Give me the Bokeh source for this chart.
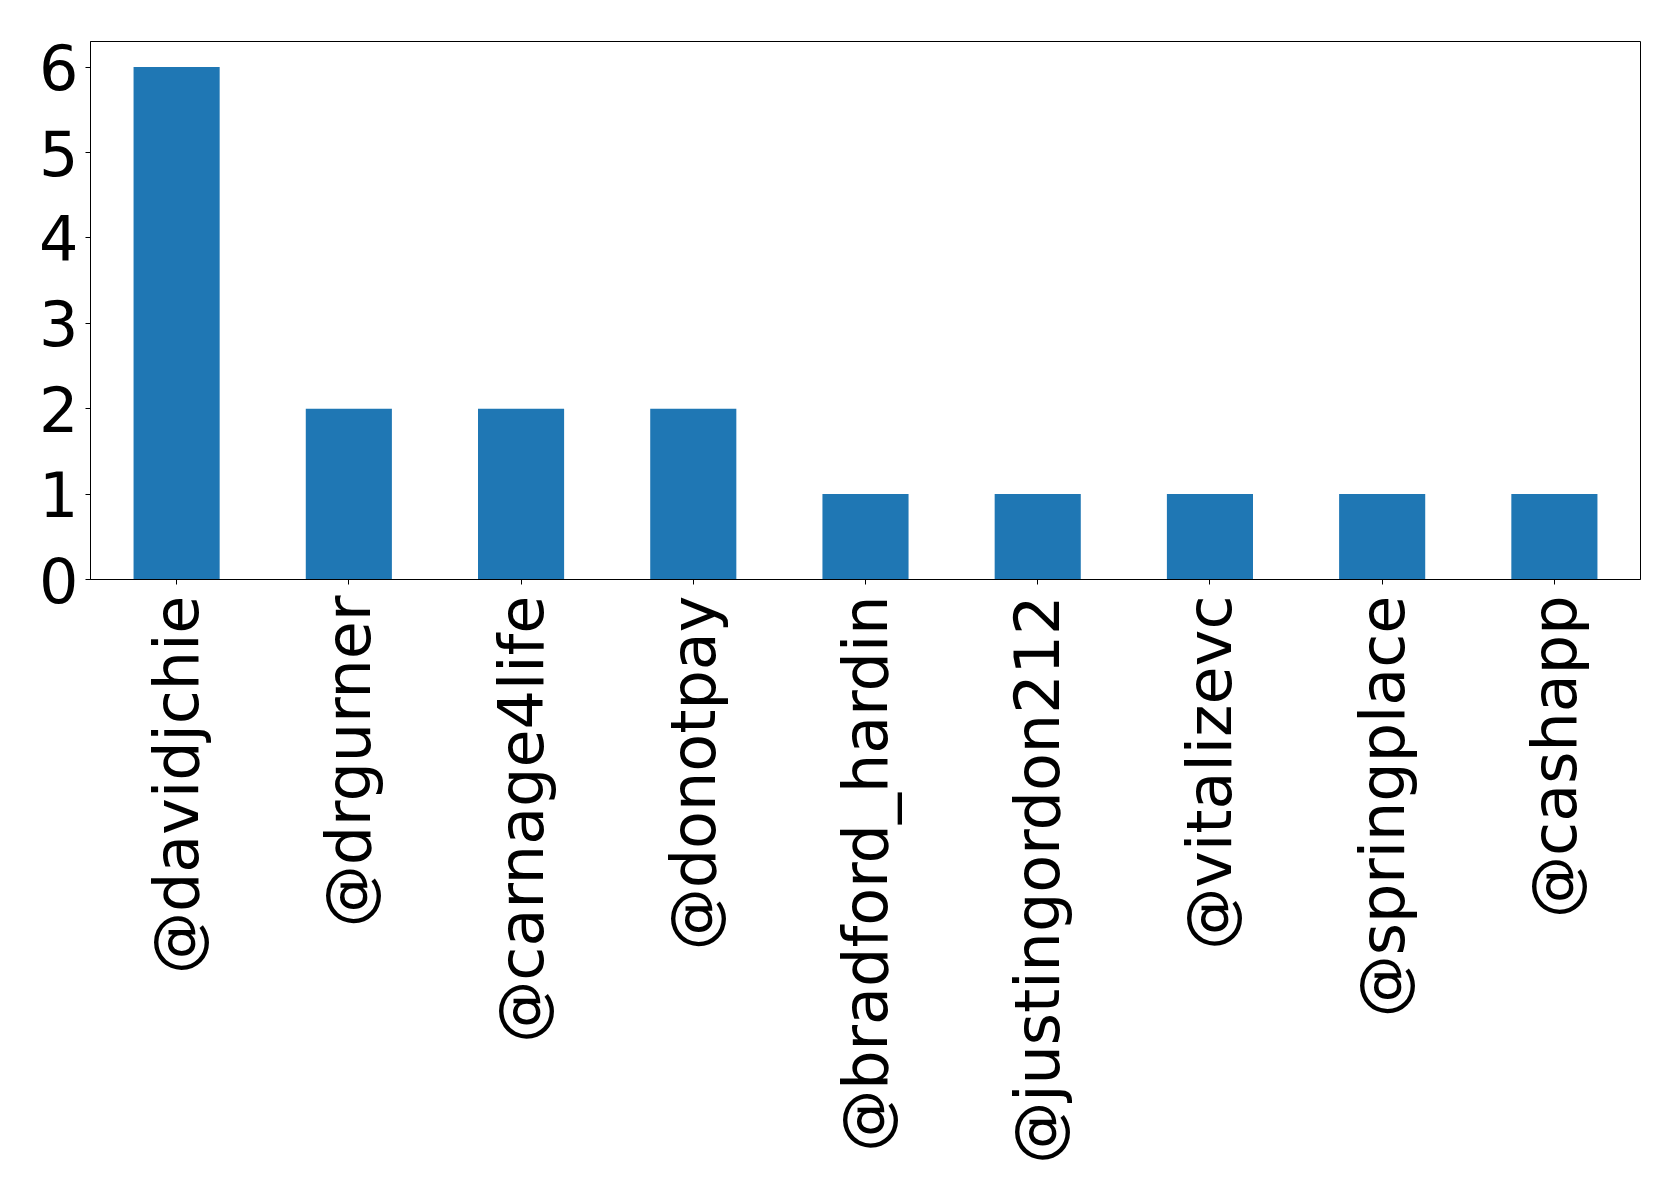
import math
from bokeh.plotting import figure
from bokeh.models import FactorRange, Range1d, FixedTicker
from bokeh.embed import file_html
from bokeh.resources import INLINE

users = ["@davidjchie", "@drgurner", "@carnage4life", "@donotpay", "@bradford_hardin",
         "@justingordon212", "@vitalizevc", "@springplace", "@cashapp"]
counts = [6, 2, 2, 2, 1, 1, 1, 1, 1]
y_ticks = [0, 1, 2, 3, 4, 5, 6]

FONT = "DejaVu Sans"
FS = "62px"

p = figure(x_range=FactorRange(*users), y_range=Range1d(0, 6.3),
           width=1663, height=1185, output_backend="svg", toolbar_location=None,
           min_border_left=90, min_border_right=23, min_border_top=41, min_border_bottom=606)
p.frame_width = 1550
p.frame_height = 538

p.vbar(x=users, top=counts, width=0.5, color="#1f77b4", line_color=None)

p.xgrid.visible = False
p.ygrid.visible = False
p.outline_line_color = "black"
p.outline_line_width = 1
p.outline_line_alpha = 1.0
p.background_fill_color = "white"
p.border_fill_color = "white"

for ax in (p.xaxis[0], p.yaxis[0]):
    ax.major_label_text_font = FONT
    ax.major_label_text_font_size = FS
    ax.major_label_text_color = "black"
    ax.major_tick_line_color = "black"
    ax.major_tick_out = 5
    ax.major_tick_in = 0
    ax.minor_tick_line_color = None
    ax.axis_line_color = "black"

p.yaxis[0].ticker = FixedTicker(ticks=y_ticks)
p.yaxis[0].major_label_standoff = 7
p.xaxis[0].major_label_orientation = math.pi / 2
p.xaxis[0].major_label_standoff = 11

open("out.html", "w").write(file_html(p, INLINE))
